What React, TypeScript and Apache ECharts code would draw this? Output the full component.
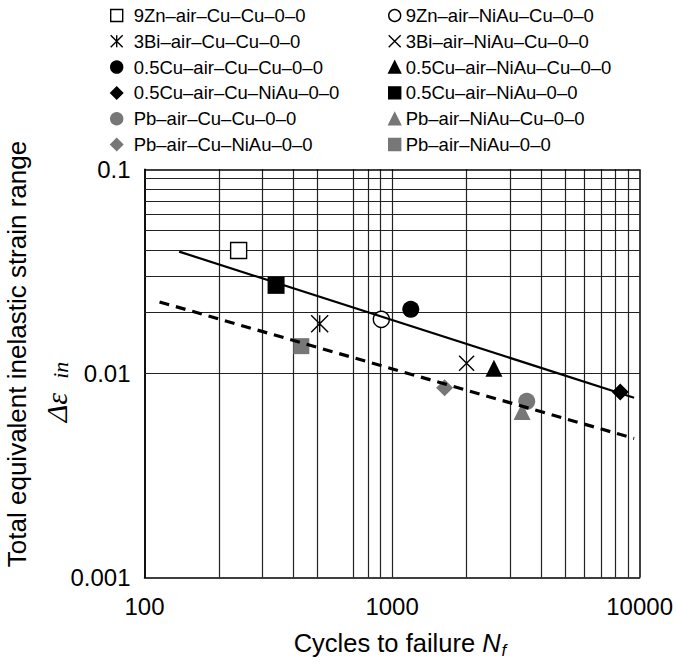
import React, { useEffect, useRef } from 'react';
import * as echarts from 'echarts';

// ---- data ----
const xTickLabels = ['100', '1000', '10000'];
const yTickLabels = ['0.001', '0.01', '0.1'];
const xGridValues = [100, 200, 300, 400, 500, 700, 800, 900, 1000, 2000, 3000, 4000, 5000, 6000, 7000, 8000, 9000, 10000];
const yGridValues = [0.001, 0.002, 0.003, 0.004, 0.005, 0.006, 0.007, 0.008, 0.009, 0.01, 0.02, 0.03, 0.04, 0.05, 0.06, 0.07, 0.08, 0.09, 0.1];

const seriesNames = [
  '9Zn–air–Cu–Cu–0–0',
  '3Bi–air–Cu–Cu–0–0',
  '0.5Cu–air–Cu–Cu–0–0',
  '0.5Cu–air–Cu–NiAu–0–0',
  'Pb–air–Cu–Cu–0–0',
  'Pb–air–Cu–NiAu–0–0',
  '9Zn–air–NiAu–Cu–0–0',
  '3Bi–air–NiAu–Cu–0–0',
  '0.5Cu–air–NiAu–Cu–0–0',
  '0.5Cu–air–NiAu–0–0',
  'Pb–air–NiAu–Cu–0–0',
  'Pb–air–NiAu–0–0',
];
const cyclesToFailure = [240, 510, 1190, 8350, 3500, 1630, 905, 2000, 2580, 340, 3350, 430];
const strainRange = [0.040, 0.0175, 0.0206, 0.0081, 0.0073, 0.0085, 0.0184, 0.0112, 0.0106, 0.027, 0.0065, 0.0136];

const solidFit = [[138, 0.0395], [9500, 0.0076]];
const dashedFit = [[115, 0.0224], [9500, 0.0048]];

// ---- styling ----
const BLACK = '#000';
const GRAY = '#777';
const ASTERISK = 'path://M-1,-1L1,1M-1,1L1,-1M0,-1L0,1';
const CROSS = 'path://M-1,-1L1,1M-1,1L1,-1';

const markerStyles = [
  { symbol: 'rect', size: 16, color: '#fff', border: BLACK, bw: 1.4 },
  { symbol: ASTERISK, size: 17, color: 'rgba(0,0,0,0)', border: BLACK, bw: 1.4 },
  { symbol: 'circle', size: 17, color: BLACK, border: BLACK, bw: 0 },
  { symbol: 'diamond', size: 17, color: BLACK, border: BLACK, bw: 0 },
  { symbol: 'circle', size: 17, color: GRAY, border: GRAY, bw: 0 },
  { symbol: 'diamond', size: 17, color: GRAY, border: GRAY, bw: 0 },
  { symbol: 'circle', size: 16, color: '#fff', border: BLACK, bw: 1.4 },
  { symbol: CROSS, size: 15, color: 'rgba(0,0,0,0)', border: BLACK, bw: 1.4 },
  { symbol: 'triangle', size: 17, color: BLACK, border: BLACK, bw: 0 },
  { symbol: 'rect', size: 17, color: BLACK, border: BLACK, bw: 0 },
  { symbol: 'triangle', size: 17, color: GRAY, border: GRAY, bw: 0 },
  { symbol: 'rect', size: 16, color: GRAY, border: GRAY, bw: 0 },
];

const FONT = 'Liberation Sans, Arial, sans-serif';
const SERIF = 'Liberation Serif, Times New Roman, serif';

function findLabel(labels: string[], v: number) {
  const hit = labels.find((l) => Math.abs(parseFloat(l) - v) / v < 1e-6);
  return hit ?? '';
}

export default function App() {
  const ref = useRef<HTMLDivElement>(null);

  useEffect(() => {
    if (!ref.current) return;
    const chart = echarts.init(ref.current, undefined, { renderer: 'svg' });

    const gridLine = (edge: boolean) => ({
      color: edge ? BLACK : '#222',
      width: edge ? 1.5 : 1.2,
      type: 'solid',
    });

    const scatterSeries = seriesNames.map((name, i) => ({
      name,
      type: 'scatter',
      z: 3,
      data: [[cyclesToFailure[i], strainRange[i]]],
      symbol: markerStyles[i].symbol,
      symbolSize: markerStyles[i].size,
      itemStyle: {
        color: markerStyles[i].color,
        borderColor: markerStyles[i].border,
        borderWidth: markerStyles[i].bw,
        opacity: 1,
      },
      emphasis: { disabled: true },
    }));

    const col1 = seriesNames.slice(0, 6);
    const col2 = seriesNames.slice(6);

    const legendBase = {
      orient: 'vertical',
      top: 1,
      padding: 5,
      itemWidth: 12,
      itemHeight: 12,
      itemGap: 6.8,
      selectedMode: false,
      itemStyle: { borderWidth: 1.4 },
      textStyle: { fontSize: 18.5, color: BLACK, fontFamily: FONT },
    };

    const option = {
      animation: false,
      backgroundColor: '#fff',
      grid: { left: 144.5, right: 36, top: 169.3, bottom: 86.5, containLabel: false },
      legend: [
        { ...legendBase, data: col1, left: 105, textStyle: { ...legendBase.textStyle, padding: [0, 0, 0, 6] } },
        { ...legendBase, data: col2, left: 383 },
      ],
      xAxis: {
        type: 'log',
        logBase: 10,
        min: 100,
        max: 10000,
        axisLine: { show: true, lineStyle: { color: BLACK, width: 1.5 } },
        axisTick: { show: false },
        splitLine: { show: false },
        axisLabel: {
          fontSize: 24,
          color: BLACK,
          fontFamily: FONT,
          margin: 17,
          formatter: (v: number) => findLabel(xTickLabels, v),
        },
      },
      yAxis: {
        type: 'log',
        logBase: 10,
        min: 0.001,
        max: 0.1,
        axisLine: { show: true, lineStyle: { color: BLACK, width: 1.5 } },
        axisTick: { show: false },
        splitLine: { show: false },
        axisLabel: {
          fontSize: 24,
          color: BLACK,
          fontFamily: FONT,
          margin: 14,
          formatter: (v: number) => findLabel(yTickLabels, v),
        },
      },
      graphic: [
        {
          type: 'text',
          x: 400,
          y: 643,
          style: {
            text: '{a|Cycles to failure }{b|N}{c|f}',
            align: 'center',
            verticalAlign: 'middle',
            rich: {
              a: { fontSize: 25.5, fontFamily: FONT, fill: BLACK, color: BLACK },
              b: { fontSize: 25.5, fontFamily: FONT, fontStyle: 'italic', fill: BLACK, color: BLACK },
              c: { fontSize: 17, fontFamily: FONT, fontStyle: 'italic', fill: BLACK, color: BLACK, padding: [14, 0, 0, 1] },
            },
          },
        },
        {
          type: 'text',
          x: 17,
          y: 354,
          rotation: Math.PI / 2,
          style: {
            text: 'Total equivalent inelastic strain range',
            fontSize: 26,
            fontFamily: FONT,
            fill: BLACK,
            align: 'center',
            verticalAlign: 'middle',
          },
        },
        {
          type: 'text',
          x: 56,
          y: 392,
          rotation: Math.PI / 2,
          style: {
            text: '{d|Δε}{s|in}',
            align: 'center',
            verticalAlign: 'middle',
            rich: {
              d: { fontSize: 30, fontFamily: SERIF, fontStyle: 'italic', fill: BLACK, color: BLACK },
              s: { fontSize: 22, fontFamily: SERIF, fontStyle: 'italic', fill: BLACK, color: BLACK, padding: [8, 0, 0, 14] },
            },
          },
        },
      ],
      series: [
        ...scatterSeries,
        {
          name: 'fit-solid',
          type: 'line',
          z: 4,
          data: solidFit,
          showSymbol: false,
          symbol: 'none',
          lineStyle: { color: BLACK, width: 2.2, type: 'solid' },
          emphasis: { disabled: true },
          markLine: {
            z: 1,
            silent: true,
            symbol: ['none', 'none'],
            label: { show: false },
            emphasis: { disabled: true },
            data: [
              ...xGridValues.map((v) => ({ xAxis: v, lineStyle: gridLine(v === 100 || v === 10000) })),
              ...yGridValues.map((v) => ({ yAxis: v, lineStyle: gridLine(v === 0.001 || v === 0.1) })),
            ],
          },
        },
        {
          name: 'fit-dashed',
          type: 'line',
          z: 4,
          data: dashedFit,
          showSymbol: false,
          symbol: 'none',
          lineStyle: { color: BLACK, width: 3.2, type: [10, 7] },
          emphasis: { disabled: true },
        },
      ],
    };

    chart.setOption(option as any);
    return () => chart.dispose();
  }, []);

  return (
    <div
      ref={ref}
      style={{ position: 'fixed', left: 0, top: 0, width: 676, height: 664, background: '#fff' }}
    />
  );
}
